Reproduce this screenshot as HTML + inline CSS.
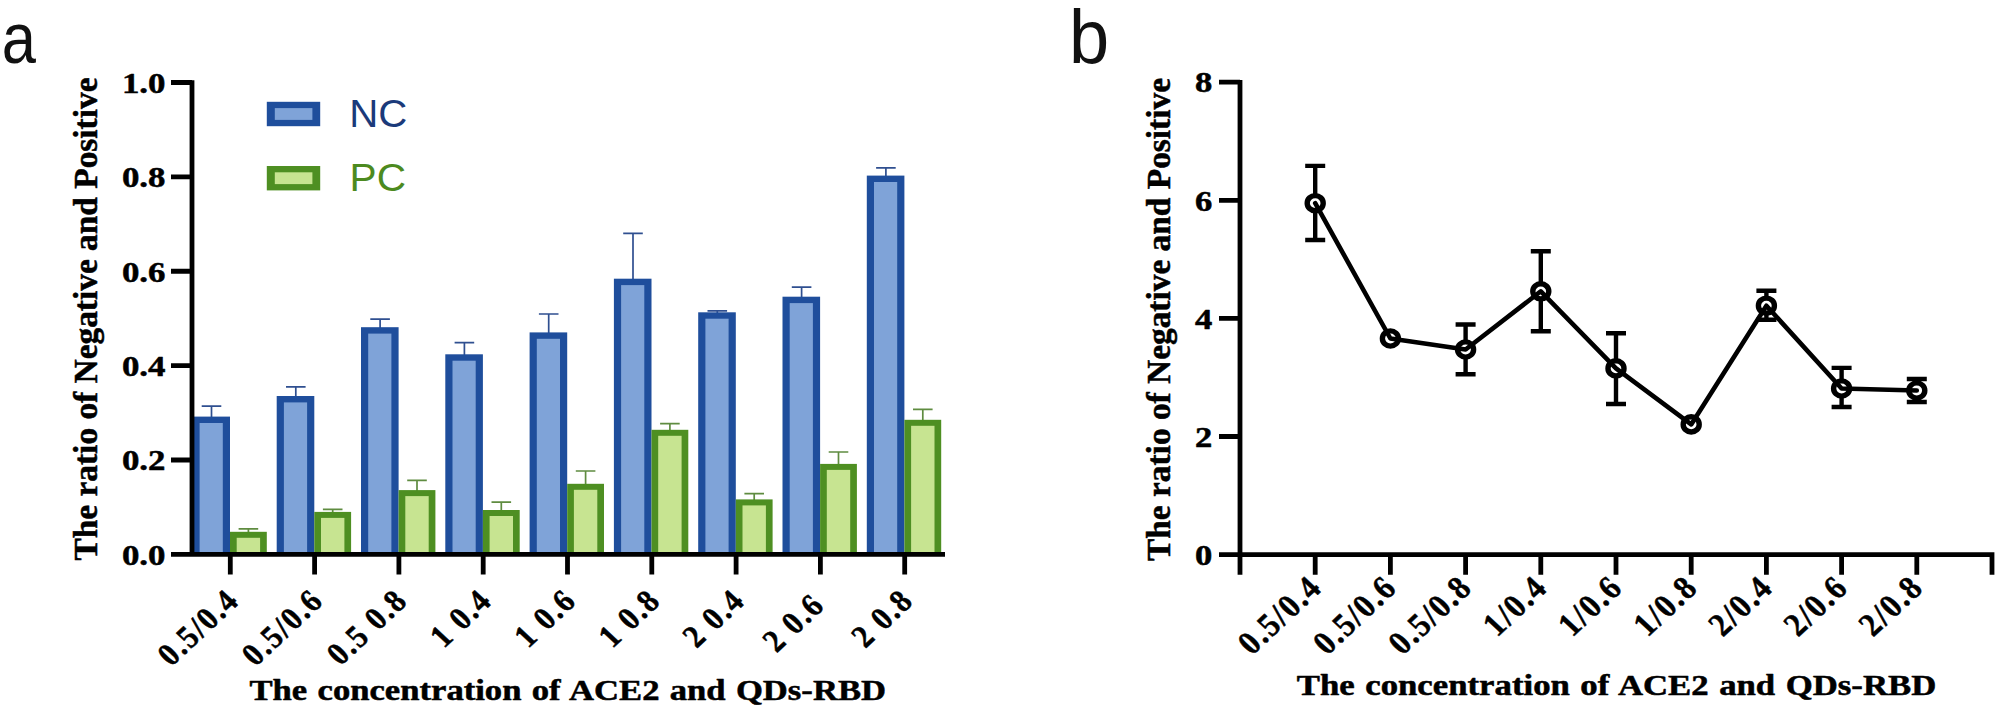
<!DOCTYPE html>
<html lang="en"><head><meta charset="utf-8"><title>Figure</title>
<style>html,body{margin:0;padding:0;background:#fff;}body{width:2007px;height:718px;overflow:hidden;}svg{display:block;}</style></head><body>
<svg width="2007" height="718" viewBox="0 0 2007 718">
<rect width="2007" height="718" fill="#ffffff"/>
<g font-family='"Liberation Sans", "DejaVu Sans", sans-serif' fill="#111">
<text transform="translate(1.8 62.6) scale(0.86 1)" font-size="71.5">a</text>
<text transform="translate(1069 62.8) scale(0.95 1)" font-size="76">b</text>
</g>
<g id="chart-a">
<path d="M211.5 417.6V406.1M201.7 406.1H221.3" stroke="#2f4f90" stroke-width="1.7" fill="none"/>
<rect x="192.4" y="416.6" width="37.6" height="138.8" fill="#1f4e9c"/>
<rect x="199.6" y="423" width="23.2" height="132.4" fill="#7fa3d8"/>
<path d="M248.4 532.8V528.9M238.6 528.9H258.2" stroke="#5f8c40" stroke-width="1.7" fill="none"/>
<rect x="230" y="531.8" width="36.8" height="23.6" fill="#4e8f22"/>
<rect x="236.7" y="537.8" width="23.4" height="17.6" fill="#c7e491"/>
<path d="M295.8 397V386.9M286 386.9H305.6" stroke="#2f4f90" stroke-width="1.7" fill="none"/>
<rect x="276.7" y="396" width="37.6" height="159.4" fill="#1f4e9c"/>
<rect x="283.9" y="402.4" width="23.2" height="153" fill="#7fa3d8"/>
<path d="M332.7 512.9V509.3M322.9 509.3H342.5" stroke="#5f8c40" stroke-width="1.7" fill="none"/>
<rect x="314.3" y="511.9" width="36.8" height="43.5" fill="#4e8f22"/>
<rect x="321" y="517.9" width="23.4" height="37.5" fill="#c7e491"/>
<path d="M380.1 328.2V319.2M370.3 319.2H389.9" stroke="#2f4f90" stroke-width="1.7" fill="none"/>
<rect x="361" y="327.2" width="37.6" height="228.2" fill="#1f4e9c"/>
<rect x="368.2" y="333.6" width="23.2" height="221.8" fill="#7fa3d8"/>
<path d="M417 491.1V480.4M407.2 480.4H426.8" stroke="#5f8c40" stroke-width="1.7" fill="none"/>
<rect x="398.6" y="490.1" width="36.8" height="65.3" fill="#4e8f22"/>
<rect x="405.3" y="496.1" width="23.4" height="59.3" fill="#c7e491"/>
<path d="M464.4 355.3V342.7M454.6 342.7H474.2" stroke="#2f4f90" stroke-width="1.7" fill="none"/>
<rect x="445.3" y="354.3" width="37.6" height="201.1" fill="#1f4e9c"/>
<rect x="452.5" y="360.7" width="23.2" height="194.7" fill="#7fa3d8"/>
<path d="M501.3 511V502.1M491.5 502.1H511.1" stroke="#5f8c40" stroke-width="1.7" fill="none"/>
<rect x="482.9" y="510" width="36.8" height="45.4" fill="#4e8f22"/>
<rect x="489.6" y="516" width="23.4" height="39.4" fill="#c7e491"/>
<path d="M548.7 333.4V314M538.9 314H558.5" stroke="#2f4f90" stroke-width="1.7" fill="none"/>
<rect x="529.6" y="332.4" width="37.6" height="223" fill="#1f4e9c"/>
<rect x="536.8" y="338.8" width="23.2" height="216.6" fill="#7fa3d8"/>
<path d="M585.6 484.8V471M575.8 471H595.4" stroke="#5f8c40" stroke-width="1.7" fill="none"/>
<rect x="567.2" y="483.8" width="36.8" height="71.6" fill="#4e8f22"/>
<rect x="573.9" y="489.8" width="23.4" height="65.6" fill="#c7e491"/>
<path d="M633 279.7V233.3M623.2 233.3H642.8" stroke="#2f4f90" stroke-width="1.7" fill="none"/>
<rect x="613.9" y="278.7" width="37.6" height="276.7" fill="#1f4e9c"/>
<rect x="621.1" y="285.1" width="23.2" height="270.3" fill="#7fa3d8"/>
<path d="M669.9 430.8V423.6M660.1 423.6H679.7" stroke="#5f8c40" stroke-width="1.7" fill="none"/>
<rect x="651.5" y="429.8" width="36.8" height="125.6" fill="#4e8f22"/>
<rect x="658.2" y="435.8" width="23.4" height="119.6" fill="#c7e491"/>
<path d="M717.3 313.3V310.9M707.5 310.9H727.1" stroke="#2f4f90" stroke-width="1.7" fill="none"/>
<rect x="698.2" y="312.3" width="37.6" height="243.1" fill="#1f4e9c"/>
<rect x="705.4" y="318.7" width="23.2" height="236.7" fill="#7fa3d8"/>
<path d="M754.2 500.4V493.7M744.4 493.7H764" stroke="#5f8c40" stroke-width="1.7" fill="none"/>
<rect x="735.8" y="499.4" width="36.8" height="56" fill="#4e8f22"/>
<rect x="742.5" y="505.4" width="23.4" height="50" fill="#c7e491"/>
<path d="M801.6 297.7V287.2M791.8 287.2H811.4" stroke="#2f4f90" stroke-width="1.7" fill="none"/>
<rect x="782.5" y="296.7" width="37.6" height="258.7" fill="#1f4e9c"/>
<rect x="789.7" y="303.1" width="23.2" height="252.3" fill="#7fa3d8"/>
<path d="M838.5 464.9V452M828.7 452H848.3" stroke="#5f8c40" stroke-width="1.7" fill="none"/>
<rect x="820.1" y="463.9" width="36.8" height="91.5" fill="#4e8f22"/>
<rect x="826.8" y="469.9" width="23.4" height="85.5" fill="#c7e491"/>
<path d="M885.9 176.6V167.8M876.1 167.8H895.7" stroke="#2f4f90" stroke-width="1.7" fill="none"/>
<rect x="866.8" y="175.6" width="37.6" height="379.8" fill="#1f4e9c"/>
<rect x="874" y="182" width="23.2" height="373.4" fill="#7fa3d8"/>
<path d="M922.8 420.8V409.4M913 409.4H932.6" stroke="#5f8c40" stroke-width="1.7" fill="none"/>
<rect x="904.4" y="419.8" width="36.8" height="135.6" fill="#4e8f22"/>
<rect x="911.1" y="425.8" width="23.4" height="129.6" fill="#c7e491"/>
<path d="M192 80.3V556.8M171 554.4H945M171 82.5H192M171 176.88H192M171 271.26H192M171 365.64H192M171 460.02H192M230.3 554.4V574.6M314.6 554.4V574.6M398.9 554.4V574.6M483.2 554.4V574.6M567.5 554.4V574.6M651.8 554.4V574.6M736.1 554.4V574.6M820.4 554.4V574.6M904.7 554.4V574.6" stroke="#000" stroke-width="4.8" fill="none"/>
<g font-family='"Liberation Serif", "DejaVu Serif", serif' font-weight="bold" fill="#000" stroke="#000" stroke-width="0.5" stroke-linejoin="round">
<text transform="translate(165.5 92.8) scale(1.17 1)" font-size="29.8" text-anchor="end">1.0</text>
<text transform="translate(165.5 187.18) scale(1.17 1)" font-size="29.8" text-anchor="end">0.8</text>
<text transform="translate(165.5 281.56) scale(1.17 1)" font-size="29.8" text-anchor="end">0.6</text>
<text transform="translate(165.5 375.94) scale(1.17 1)" font-size="29.8" text-anchor="end">0.4</text>
<text transform="translate(165.5 470.32) scale(1.17 1)" font-size="29.8" text-anchor="end">0.2</text>
<text transform="translate(165.5 564.7) scale(1.17 1)" font-size="29.8" text-anchor="end">0.0</text>
<text transform="translate(240.9 602.08) scale(1.07 1) rotate(-45) scale(0.9 1)" font-size="32" letter-spacing="1.91" text-anchor="end">0.5/0.4</text>
<text transform="translate(325.2 602.08) scale(1.07 1) rotate(-45) scale(0.9 1)" font-size="32" letter-spacing="1.91" text-anchor="end">0.5/0.6</text>
<text transform="translate(409.5 602.08) scale(1.07 1) rotate(-45) scale(0.9 1)" font-size="32" letter-spacing="1.91" text-anchor="end">0.5 0.8</text>
<text transform="translate(493.8 602.08) scale(1.07 1) rotate(-45) scale(0.9 1)" font-size="32" letter-spacing="1.91" text-anchor="end">1 0.4</text>
<text transform="translate(578.1 602.08) scale(1.07 1) rotate(-45) scale(0.9 1)" font-size="32" letter-spacing="1.91" text-anchor="end">1 0.6</text>
<text transform="translate(662.4 602.08) scale(1.07 1) rotate(-45) scale(0.9 1)" font-size="32" letter-spacing="1.91" text-anchor="end">1 0.8</text>
<text transform="translate(746.7 602.08) scale(1.07 1) rotate(-45) scale(0.9 1)" font-size="32" letter-spacing="1.91" text-anchor="end">2 0.4</text>
<text transform="translate(826.5 606.58) scale(1.07 1) rotate(-45) scale(0.9 1)" font-size="32" letter-spacing="1.91" text-anchor="end">2 0.6</text>
<text transform="translate(915.3 602.08) scale(1.07 1) rotate(-45) scale(0.9 1)" font-size="32" letter-spacing="1.91" text-anchor="end">2 0.8</text>
<text x="249.5" y="700" font-size="29.2" word-spacing="1.4" textLength="636.5" lengthAdjust="spacingAndGlyphs">The concentration of ACE2 and QDs-RBD</text>
<text transform="translate(96.5 560.5) rotate(-90)" font-size="34" textLength="483" lengthAdjust="spacingAndGlyphs">The ratio of Negative and Positive</text>
</g>
<rect x="266.8" y="101.8" width="53.4" height="24.4" fill="#1f4e9c"/>
<rect x="274.8" y="108.1" width="37.6" height="11.8" fill="#7fa3d8"/>
<rect x="266.8" y="166" width="53.4" height="24.4" fill="#4e8f22"/>
<rect x="274.8" y="172.3" width="37.6" height="11.8" fill="#c7e491"/>
<g font-family='"Liberation Sans", "DejaVu Sans", sans-serif' font-size="38.5">
<text transform="translate(349.3 126.5) scale(1.045 1)" fill="#1b3a7a">NC</text>
<text transform="translate(349.6 190.6) scale(1.055 1)" fill="#4c8a1f">PC</text>
</g>
</g>
<g id="chart-b">
<path d="M1240 80V574.8M1219 554.6H1994.4M1219 82.2H1240M1219 200.3H1240M1219 318.4H1240M1219 436.5H1240M1315.2 554.6V574.8M1390.4 554.6V574.8M1465.6 554.6V574.8M1540.8 554.6V574.8M1616 554.6V574.8M1691.2 554.6V574.8M1766.4 554.6V574.8M1841.6 554.6V574.8M1916.8 554.6V574.8M1992 554.6V574.8" stroke="#000" stroke-width="4.8" fill="none"/>
<path d="M1315.2 165.9V240M1305.2 165.9H1325.2M1305.2 240H1325.2M1465.6 324.5V374.2M1455.6 324.5H1475.6M1455.6 374.2H1475.6M1540.8 251.2V331.2M1530.8 251.2H1550.8M1530.8 331.2H1550.8M1616 333.3V404M1606 333.3H1626M1606 404H1626M1766.4 290.7V319.8M1756.4 290.7H1776.4M1756.4 319.8H1776.4M1841.6 367.9V407M1831.6 367.9H1851.6M1831.6 407H1851.6M1916.8 379V402M1906.8 379H1926.8M1906.8 402H1926.8" stroke="#000" stroke-width="4.4" fill="none"/>
<ellipse cx="1315.2" cy="203.2" rx="8" ry="7.6" fill="#fff" stroke="#000" stroke-width="5.4"/>
<ellipse cx="1390.4" cy="338.5" rx="8" ry="7.6" fill="#fff" stroke="#000" stroke-width="5.4"/>
<ellipse cx="1465.6" cy="349.5" rx="8" ry="7.6" fill="#fff" stroke="#000" stroke-width="5.4"/>
<ellipse cx="1540.8" cy="291.3" rx="8" ry="7.6" fill="#fff" stroke="#000" stroke-width="5.4"/>
<ellipse cx="1616" cy="368.4" rx="8" ry="7.6" fill="#fff" stroke="#000" stroke-width="5.4"/>
<ellipse cx="1691.2" cy="424.4" rx="8" ry="7.6" fill="#fff" stroke="#000" stroke-width="5.4"/>
<ellipse cx="1766.4" cy="305.7" rx="8" ry="7.6" fill="#fff" stroke="#000" stroke-width="5.4"/>
<ellipse cx="1841.6" cy="388.5" rx="8" ry="7.6" fill="#fff" stroke="#000" stroke-width="5.4"/>
<ellipse cx="1916.8" cy="390.5" rx="8" ry="7.6" fill="#fff" stroke="#000" stroke-width="5.4"/>
<polyline points="1315.2,203.2 1390.4,338.5 1465.6,349.5 1540.8,291.3 1616,368.4 1691.2,424.4 1766.4,305.7 1841.6,388.5 1916.8,390.5" stroke="#000" stroke-width="4.6" fill="none" stroke-linejoin="round" stroke-linecap="round"/>
<g font-family='"Liberation Serif", "DejaVu Serif", serif' font-weight="bold" fill="#000" stroke="#000" stroke-width="0.5" stroke-linejoin="round">
<text transform="translate(1212.3 92.4) scale(1.2 1)" font-size="28.8" text-anchor="end">8</text>
<text transform="translate(1212.3 210.5) scale(1.2 1)" font-size="28.8" text-anchor="end">6</text>
<text transform="translate(1212.3 328.6) scale(1.2 1)" font-size="28.8" text-anchor="end">4</text>
<text transform="translate(1212.3 446.7) scale(1.2 1)" font-size="28.8" text-anchor="end">2</text>
<text transform="translate(1212.3 564.8) scale(1.2 1)" font-size="28.8" text-anchor="end">0</text>
<text transform="translate(1323.73 588.96) scale(1.07 1) rotate(-45) scale(0.9 1)" font-size="33" letter-spacing="1.96" text-anchor="end">0.5/0.4</text>
<text transform="translate(1398.93 588.96) scale(1.07 1) rotate(-45) scale(0.9 1)" font-size="33" letter-spacing="1.96" text-anchor="end">0.5/0.6</text>
<text transform="translate(1474.13 588.96) scale(1.07 1) rotate(-45) scale(0.9 1)" font-size="33" letter-spacing="1.96" text-anchor="end">0.5/0.8</text>
<text transform="translate(1549.33 588.96) scale(1.07 1) rotate(-45) scale(0.9 1)" font-size="33" letter-spacing="1.96" text-anchor="end">1/0.4</text>
<text transform="translate(1624.53 588.96) scale(1.07 1) rotate(-45) scale(0.9 1)" font-size="33" letter-spacing="1.96" text-anchor="end">1/0.6</text>
<text transform="translate(1699.73 588.96) scale(1.07 1) rotate(-45) scale(0.9 1)" font-size="33" letter-spacing="1.96" text-anchor="end">1/0.8</text>
<text transform="translate(1774.93 588.96) scale(1.07 1) rotate(-45) scale(0.9 1)" font-size="33" letter-spacing="1.96" text-anchor="end">2/0.4</text>
<text transform="translate(1850.13 588.96) scale(1.07 1) rotate(-45) scale(0.9 1)" font-size="33" letter-spacing="1.96" text-anchor="end">2/0.6</text>
<text transform="translate(1925.33 588.96) scale(1.07 1) rotate(-45) scale(0.9 1)" font-size="33" letter-spacing="1.96" text-anchor="end">2/0.8</text>
<text x="1296.8" y="694.7" font-size="28.4" word-spacing="1.5" textLength="639.5" lengthAdjust="spacingAndGlyphs">The concentration of ACE2 and QDs-RBD</text>
<text transform="translate(1170 561) rotate(-90)" font-size="34" textLength="483" lengthAdjust="spacingAndGlyphs">The ratio of Negative and Positive</text>
</g>
</g>
</svg></body></html>
